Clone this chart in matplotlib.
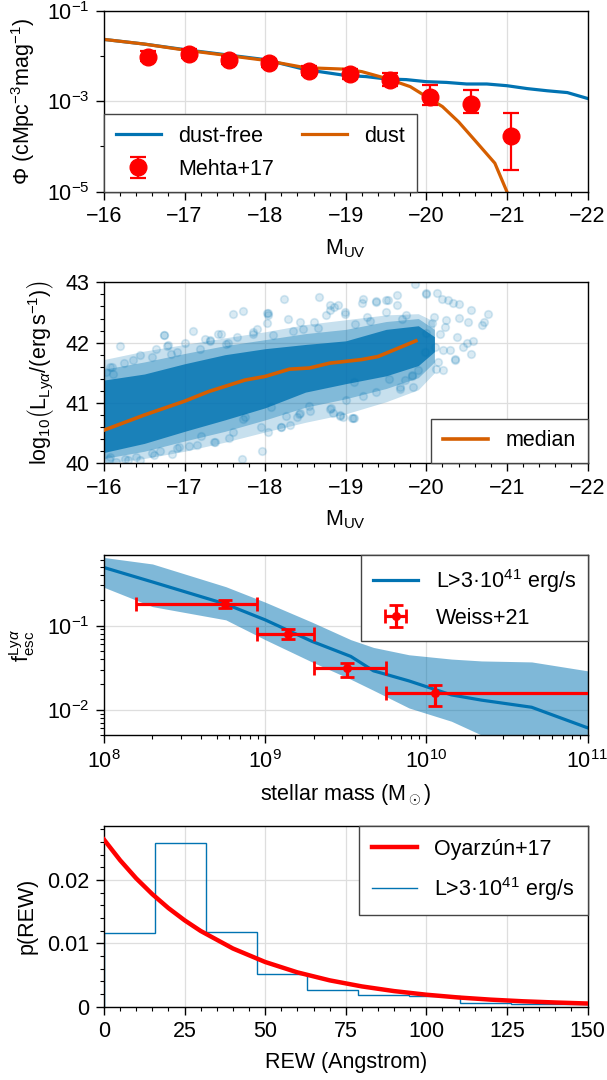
import matplotlib
matplotlib.use("Agg")
import matplotlib.pyplot as plt
from matplotlib.lines import Line2D
from matplotlib.ticker import FixedLocator, MultipleLocator, NullFormatter, FuncFormatter, LogLocator

plt.rcParams.update({
    "font.family": ["Liberation Sans", "DejaVu Sans"],
    "font.size": 15.5,
    "mathtext.fontset": "custom",
    "mathtext.rm": "Liberation Sans",
    "mathtext.it": "Liberation Sans:italic",
    "mathtext.bf": "Liberation Sans:bold",
    "mathtext.sf": "Liberation Sans",
    "axes.linewidth": 1.0,
    "axes.labelpad": 7,
    "xtick.major.size": 5.5, "ytick.major.size": 5.5,
    "xtick.minor.size": 3, "ytick.minor.size": 3,
    "xtick.major.width": 1.0, "ytick.major.width": 1.0,
    "xtick.minor.width": 0.8, "ytick.minor.width": 0.8,
    "xtick.major.pad": 5, "ytick.major.pad": 5,
    "legend.fancybox": False,
    "legend.framealpha": 1.0,
    "legend.edgecolor": "#444444",
    "legend.handlelength": 2.1,
})

BLUE = "#0173b2"
ORANGE = "#d55e00"
RED = "#ff0000"
GRID = "#dedede"

# ---- panel 1: UV luminosity function ----
muv_model = [-16.0, -16.5, -17.0, -17.5, -18.0, -18.5, -18.75, -19.0, -19.25, -19.5,
             -19.75, -20.0, -20.25, -20.5, -20.75, -21.0, -21.25, -21.5, -21.75, -22.0]
phi_dustfree = [0.0232, 0.0183, 0.0138, 0.0107, 0.0083, 0.0050, 0.0043, 0.0037, 0.0035, 0.0031,
                0.0030, 0.0027, 0.0026, 0.0024, 0.0024, 0.0022, 0.0019, 0.0017, 0.00155, 0.00115]
muv_dust = [-16.0, -16.5, -17.0, -17.5, -18.0, -18.5, -18.75, -19.0, -19.2, -19.5,
            -19.8, -20.0, -20.2, -20.4, -20.6, -20.85, -21.0]
phi_dust = [0.0232, 0.0183, 0.0135, 0.0104, 0.0080, 0.0055, 0.0053, 0.0051, 0.0045, 0.0032,
            0.0021, 0.00126, 0.00076, 0.00035, 0.000138, 0.0000427, 0.00001]
mehta_muv = [-16.55, -17.05, -17.55, -18.05, -18.55, -19.05, -19.55, -20.05, -20.55, -21.05]
mehta_phi = [0.0096, 0.0110, 0.0081, 0.0069, 0.0047, 0.0040, 0.0030, 0.00122, 0.00087, 0.00017]
mehta_up = [0.0030, 0.0030, 0.0018, 0.0015, 0.0013, 0.0012, 0.0011, 0.0011, 0.0009, 0.00039]
mehta_lo = [0.0020, 0.0020, 0.0015, 0.0012, 0.0010, 0.0009, 0.0008, 0.0004, 0.00033, 0.00014]

# ---- panel 2: Lya luminosity vs MUV ----
# dense part of the cloud (upper / lower envelopes, three density levels)
cloud_muv = [-16.0, -16.5, -17.0, -17.5, -18.0, -18.5, -19.0, -19.5, -19.9, -20.1]
core_hi = [41.38, 41.48, 41.65, 41.80, 41.90, 41.97, 42.03, 42.22, 42.28, 42.10]
core_lo = [40.18, 40.33, 40.53, 40.72, 40.92, 41.18, 41.32, 41.45, 41.62, 41.85]
mid_hi = [41.56, 41.68, 41.82, 41.95, 42.05, 42.15, 42.22, 42.35, 42.40, 42.22]
mid_lo = [40.08, 40.20, 40.37, 40.53, 40.72, 40.93, 41.07, 41.24, 41.42, 41.68]
halo_hi = [41.72, 41.86, 41.97, 42.08, 42.18, 42.30, 42.38, 42.46, 42.48, 42.35]
halo_lo = [40.00, 40.08, 40.20, 40.35, 40.52, 40.68, 40.82, 41.02, 41.22, 41.50]
# individual sparse galaxies around the cloud
sparse_muv = [-17.60, -17.73, -17.11, -16.74, -16.80, -16.90, -17.42, -17.32, -17.54, -16.36,
              -16.10, -16.03, -16.59, -17.38, -17.15, -16.90, -16.59, -16.45, -17.71, -17.96,
              -17.60, -17.75, -17.85, -18.02, -18.02, -16.06, -16.62,
              -18.23, -18.67, -19.86, -20.00, -19.22, -19.53, -19.63, -19.38, -18.04, -18.43,
              -18.80, -18.91, -18.99, -18.60, -18.20, -18.04, -18.43, -18.56, -18.82, -18.93,
              -19.09, -19.82, -19.67, -18.31, -18.40, -18.84, -18.96, -19.20, -19.63, -18.81,
              -20.00, -20.13, -20.19, -20.27, -20.33, -20.41, -20.76, -20.69, -20.52, -20.41,
              -20.50, -20.55, -20.36, -20.12, -20.15, -20.29, -20.21, -20.11, -20.07, -20.23,
              -20.17, -20.25, -20.09, -20.38, -20.00, -19.98, -20.55, -20.72, -20.58, -20.45,
              -20.36, -20.21, -19.90, -19.83, -19.73, -19.10, -17.90, -17.20, -16.30, -16.20,
              -16.75, -17.45, -18.04, -18.28, -18.85, -18.99, -19.38, -19.50, -17.37, -18.20,
              -17.72, -18.07, -18.26, -18.42, -18.80, -18.93, -19.08, -16.70, -16.93, -16.26,
              -16.07, -19.38, -19.67, -19.82, -19.54, -19.22, -19.10, -16.78, -16.83, -16.07,
              -16.11, -17.19, -17.31, -17.52, -17.85, -18.10, -18.47, -18.76, -19.11, -19.26,
              -19.50, -19.75, -16.25, -16.45, -16.65, -17.00, -17.25, -17.65, -18.35, -18.65,
              -19.30, -19.70, -16.15, -16.40, -16.85, -17.05, -17.55, -17.95, -18.55, -19.00]
sparse_lya = [42.47, 42.53, 42.19, 42.13, 41.96, 41.85, 42.15, 42.04, 41.99, 41.72,
              41.59, 41.52, 41.76, 40.35, 40.30, 40.25, 40.17, 40.06, 40.07, 40.21,
              40.52, 40.77, 42.15, 42.32, 42.49, 40.07, 40.14,
              42.73, 42.75, 42.98, 42.81, 42.73, 42.71, 42.62, 42.68, 42.49, 42.35,
              42.54, 42.62, 42.51, 42.35, 40.61, 40.52, 40.83, 40.86, 40.91, 40.80,
              40.75, 41.46, 41.24, 40.64, 40.77, 40.83, 40.77, 42.66, 42.79, 42.62,
              42.82, 42.82, 42.73, 42.71, 42.65, 42.64, 42.47, 42.29, 42.35, 42.41,
              41.99, 41.81, 41.73, 41.57, 41.68, 41.87, 41.88, 41.93, 42.32, 42.26,
              42.15, 42.38, 42.43, 42.10, 42.16, 41.85, 42.54, 42.35, 42.02, 41.93,
              41.71, 41.55, 41.55, 41.27, 41.38, 40.75, 42.22, 40.45, 40.05, 41.95,
              42.12, 42.14, 42.45, 42.39, 42.59, 42.48, 42.69, 42.71, 40.35, 40.60,
              40.73, 40.94, 40.79, 40.82, 40.90, 40.79, 40.75, 40.21, 40.27, 40.07,
              40.10, 41.18, 41.26, 41.45, 41.40, 41.12, 41.34, 41.95, 41.81, 41.59,
              41.48, 41.90, 42.03, 41.98, 42.17, 42.12, 42.23, 42.45, 42.31, 42.42,
              42.50, 42.45, 41.66, 41.80, 41.90, 42.00, 42.06, 42.10, 42.20, 42.25,
              42.36, 42.40, 40.03, 40.10, 40.15, 40.28, 40.42, 40.60, 40.95, 41.05]
median_muv = [-16.0, -16.5, -17.0, -17.3, -17.75, -18.0, -18.3, -18.55, -18.8, -19.0,
              -19.2, -19.4, -19.6, -19.87]
median_lya = [40.55, 40.80, 41.03, 41.19, 41.38, 41.44, 41.56, 41.58, 41.66, 41.69,
              41.72, 41.77, 41.88, 42.03]

# ---- panel 3: escape fraction vs stellar mass ----
mstar = [1e8, 2.0e8, 5.7e8, 1.0e9, 1.95e9, 3.4e9, 4.7e9, 7.8e9, 1.43e10, 2.2e10, 4.5e10, 1e11]
fesc_med = [0.49, 0.33, 0.18, 0.117, 0.065, 0.043, 0.029, 0.022, 0.015, 0.013, 0.0107, 0.0061]
fesc_hi = [0.645, 0.54, 0.29, 0.19, 0.11, 0.068, 0.055, 0.045, 0.040, 0.038, 0.037, 0.029]
fesc_lo = [0.285, 0.168, 0.117, 0.068, 0.037, 0.023, 0.017, 0.0105, 0.0073, 0.0050, 0.0035, 0.0025]
weiss_m = [5.6e8, 1.38e9, 3.24e9, 1.13e10]
weiss_m_lo = [1.59e8, 8.9e8, 2.0e9, 5.64e9]
weiss_m_hi = [8.9e8, 2.0e9, 5.64e9, 2.0e11]
weiss_f = [0.179, 0.0796, 0.031, 0.016]
weiss_f_lo = [0.160, 0.0695, 0.0245, 0.0112]
weiss_f_hi = [0.201, 0.0905, 0.036, 0.0199]

# ---- panel 4: REW distribution ----
rew_edges = [0, 15.78, 31.56, 47.34, 63.12, 78.9, 94.68, 110.46, 126.24, 142.02, 157.8]
rew_hist = [0.0117, 0.0259, 0.0118, 0.0052, 0.0026, 0.0018, 0.0017, 0.00054, 0.00043, 0.0004]
oyarzun_rew = [0, 5, 10, 15, 20, 25, 30, 40, 50, 60, 70, 80, 90, 100, 110, 120, 130, 140, 150]
oyarzun_p = [0.0264, 0.02314, 0.02027, 0.01777, 0.01557, 0.01365, 0.01196, 0.00919, 0.00706,
             0.00542, 0.00416, 0.00320, 0.00246, 0.00189, 0.00145, 0.00111, 0.00085, 0.00066,
             0.00050]


def style_axis(ax):
    ax.tick_params(which="both", top=False, right=False, direction="out")
    ax.grid(True, which="major", color=GRID, lw=0.9)
    ax.set_axisbelow(True)


fig = plt.figure(figsize=(6.07, 10.8), dpi=100)
left, width = 0.1713, 0.7966
ax1 = fig.add_axes([left, 0.8225, width, 0.1676])
ax2 = fig.add_axes([left, 0.5710, width, 0.1676])
ax3 = fig.add_axes([left, 0.3194, width, 0.1667])
ax4 = fig.add_axes([left, 0.0679, width, 0.1676])

# panel 1
l1, = ax1.plot(muv_model, phi_dustfree, color=BLUE, lw=2.3, label="dust-free")
l2, = ax1.plot(muv_dust, phi_dust, color=ORANGE, lw=2.3, label="dust")
eb = ax1.errorbar(mehta_muv, mehta_phi, yerr=[mehta_lo, mehta_up], fmt="o", color=RED,
                  ms=12, lw=1.6, capsize=5.5, capthick=1.6, zorder=5, label="Mehta+17")
ax1.set_yscale("log")
ax1.set_xlim(-16, -22)
ax1.set_ylim(1e-5, 1e-1)
ax1.yaxis.set_major_locator(FixedLocator([1e-5, 1e-3, 1e-1]))
ax1.yaxis.set_minor_locator(FixedLocator([1e-4, 1e-2]))
ax1.yaxis.set_minor_formatter(NullFormatter())
ax1.xaxis.set_major_locator(MultipleLocator(1))
ax1.xaxis.set_minor_locator(MultipleLocator(0.2))
ax1.set_xlabel(r"M$_{\mathrm{UV}}$")
ax1.set_ylabel(r"Φ (cMpc$^{-3}$mag$^{-1}$)")
style_axis(ax1)
ax1.legend(handles=[l1, eb, l2], ncol=2, loc="lower left", mode="expand",
           bbox_to_anchor=(0, 0, 0.647, 1), borderaxespad=0, labelspacing=0.55,
           borderpad=0.55)

# panel 2
ax2.fill_between(cloud_muv, halo_lo, halo_hi, color=BLUE, alpha=0.22, lw=0, zorder=1)
ax2.fill_between(cloud_muv, mid_lo, mid_hi, color=BLUE, alpha=0.35, lw=0, zorder=1)
ax2.fill_between(cloud_muv, core_lo, core_hi, color=BLUE, alpha=0.8, lw=0, zorder=1)
ax2.scatter(sparse_muv, sparse_lya, s=30, color=BLUE, alpha=0.15, lw=1.2, zorder=2)
ax2.plot(median_muv, median_lya, color=ORANGE, lw=2.6, label="median", zorder=3)
ax2.set_xlim(-16, -22)
ax2.set_ylim(40, 43)
ax2.xaxis.set_major_locator(MultipleLocator(1))
ax2.xaxis.set_minor_locator(MultipleLocator(0.2))
ax2.yaxis.set_major_locator(MultipleLocator(1))
ax2.yaxis.set_minor_locator(MultipleLocator(0.2))
ax2.set_xlabel(r"M$_{\mathrm{UV}}$")
ax2.set_ylabel(r"$\mathrm{log}_{10}\left(\mathrm{L}_{\mathrm{Ly}\alpha}/(\mathrm{erg}\,\mathrm{s}^{-1})\right)$")
style_axis(ax2)
ax2.legend(loc="lower right", borderaxespad=0, borderpad=0.55)

# panel 3
ax3.fill_between(mstar, fesc_lo, fesc_hi, color=BLUE, alpha=0.5, lw=0)
l3, = ax3.plot(mstar, fesc_med, color=BLUE, lw=2.3, label=r"L>3·10$^{41}$ erg/s")
xerr = [[m - lo for m, lo in zip(weiss_m, weiss_m_lo)], [hi - m for m, hi in zip(weiss_m, weiss_m_hi)]]
yerr = [[f - lo for f, lo in zip(weiss_f, weiss_f_lo)], [hi - f for f, hi in zip(weiss_f, weiss_f_hi)]]
eb3 = ax3.errorbar(weiss_m, weiss_f, xerr=xerr, yerr=yerr, fmt="o", color=RED, ms=5.5,
                   lw=2.3, capsize=5, capthick=2, zorder=5, label="Weiss+21")
ax3.set_xscale("log")
ax3.set_yscale("log")
ax3.set_xlim(1e8, 1e11)
ax3.set_ylim(0.005, 0.69)
ax3.xaxis.set_minor_locator(LogLocator(base=10, subs=range(2, 10), numticks=20))
ax3.xaxis.set_minor_formatter(NullFormatter())
ax3.yaxis.set_minor_formatter(NullFormatter())
ax3.set_xlabel(r"stellar mass (M$_\odot$)")
ax3.set_ylabel(r"$\mathrm{f}_{\mathrm{esc}}^{\mathrm{Ly}\alpha}$")
style_axis(ax3)
ax3.legend(handles=[l3, eb3], loc="upper right", borderaxespad=0, labelspacing=0.6,
           borderpad=0.55)

# panel 4
l4, = ax4.plot(oyarzun_rew, oyarzun_p, color=RED, lw=3.2, zorder=3, label="Oyarzún+17")
ax4.stairs(rew_hist, rew_edges, color=BLUE, lw=1.0, zorder=2)
h4 = Line2D([], [], color=BLUE, lw=1.0, label=r"L>3·10$^{41}$ erg/s")
ax4.set_xlim(0, 150)
ax4.set_ylim(0, 0.0286)
ax4.xaxis.set_major_locator(MultipleLocator(25))
ax4.xaxis.set_minor_locator(MultipleLocator(5))
ax4.yaxis.set_major_locator(MultipleLocator(0.01))
ax4.yaxis.set_minor_locator(MultipleLocator(0.002))
ax4.yaxis.set_major_formatter(FuncFormatter(lambda v, p: "0" if abs(v) < 1e-9 else f"{v:.2f}"))
ax4.set_xlabel("REW (Angstrom)")
ax4.set_ylabel("p(REW)")
style_axis(ax4)
ax4.legend(handles=[l4, h4], loc="upper right", borderaxespad=0, labelspacing=0.7,
           borderpad=0.6)

fig.savefig("out.png", dpi=100)
